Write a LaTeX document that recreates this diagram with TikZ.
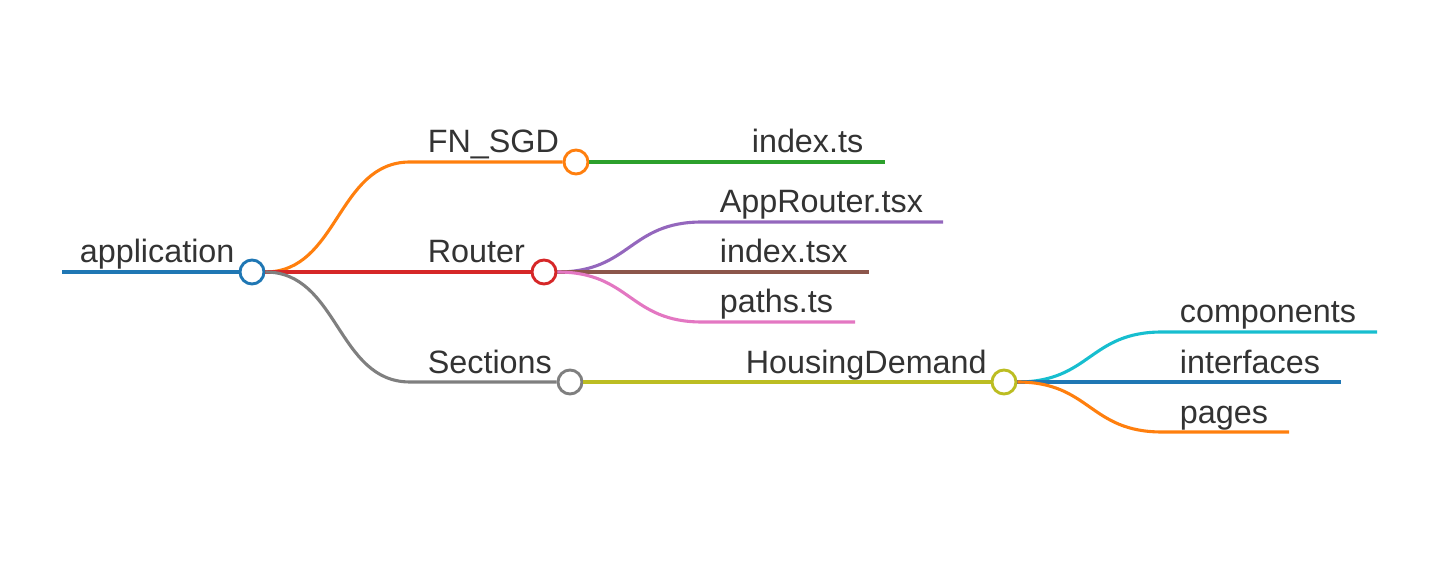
\documentclass[tikz,border=0pt]{standalone}
\usepackage{fontspec}
\setmainfont{Liberation Sans}
\usetikzlibrary{positioning}

\definecolor{mmblue}{HTML}{1F77B4}
\definecolor{mmorange}{HTML}{FF7F0E}
\definecolor{mmgreen}{HTML}{2CA02C}
\definecolor{mmred}{HTML}{D62728}
\definecolor{mmpurple}{HTML}{9467BD}
\definecolor{mmbrown}{HTML}{8C564B}
\definecolor{mmpink}{HTML}{E377C2}
\definecolor{mmgray}{HTML}{7F7F7F}
\definecolor{mmolive}{HTML}{BCBD22}
\definecolor{mmcyan}{HTML}{17BECF}
\definecolor{txtgray}{HTML}{333333}

\tikzset{
  branch/.style={line width=0.062cm},
  knot/.style={circle, draw=#1, fill=white, line width=0.058cm, minimum size=0.48cm, inner sep=0pt},
  leaf/.style={anchor=base west, inner sep=0pt, text=txtgray, font=\fontsize{18.4}{20}\selectfont},
}

\begin{document}
\begin{tikzpicture}[x=0.02cm, y=-0.02cm]
  \useasboundingbox (0,0) rectangle (1453,573);

  % circles
  \node[knot=mmblue]   (app) at (252,272) {};
  \node[knot=mmorange] (fn)  at (576,162) {};
  \node[knot=mmred]    (rt)  at (544,272) {};
  \node[knot=mmgray]   (sec) at (570,382) {};
  \node[knot=mmolive]  (hd)  at (1004,382) {};

  % line ends
  \coordinate (appL) at (62,272);
  \coordinate (fnL)  at (410,162);
  \coordinate (fnE)  at (885,162);
  \coordinate (arL)  at (702,222);
  \coordinate (arE)  at (943,222);
  \coordinate (itE)  at (869,272);
  \coordinate (ptL)  at (702,322);
  \coordinate (ptE)  at (855,322);
  \coordinate (secL) at (410,382);
  \coordinate (cpL)  at (1162,332);
  \coordinate (cpE)  at (1377,332);
  \coordinate (ifE)  at (1341,382);
  \coordinate (pgL)  at (1162,432);
  \coordinate (pgE)  at (1289,432);

  % branches
  \draw[branch, mmblue] (appL) -- (app.west);
  \draw[branch, mmorange] (app.east) .. controls +(73,0) and +(-73,0) .. (fnL) -- (fn.west);
  \draw[branch, mmgreen] (fn.east) -- (fnE);
  \draw[branch, mmred] (app.east) -- (rt.west);
  \draw[branch, mmpurple] (rt.east) .. controls +(73,0) and +(-73,0) .. (arL) -- (arE);
  \draw[branch, mmbrown] (rt.east) -- (itE);
  \draw[branch, mmpink] (rt.east) .. controls +(73,0) and +(-73,0) .. (ptL) -- (ptE);
  \draw[branch, mmgray] (app.east) .. controls +(73,0) and +(-73,0) .. (secL) -- (sec.west);
  \draw[branch, mmolive] (sec.east) -- (hd.west);
  \draw[branch, mmcyan] (hd.east) .. controls +(73,0) and +(-73,0) .. (cpL) -- (cpE);
  \draw[branch, mmblue] (hd.east) -- (ifE);
  \draw[branch, mmorange] (hd.east) .. controls +(73,0) and +(-73,0) .. (pgL) -- (pgE);

  % labels
  \node[leaf] (appT) at (79.5,263)   {application};
  \node[leaf] (fnT)  at (427.5,153)  {FN\_SGD};
  \node[leaf] (idT)  at (751.5,153)  {index.ts};
  \node[leaf] (rtT)  at (427.5,263)  {Router};
  \node[leaf] (arT)  at (719.5,213)  {AppRouter.tsx};
  \node[leaf] (itT)  at (719.5,263)  {index.tsx};
  \node[leaf] (ptT)  at (719.5,313)  {paths.ts};
  \node[leaf] (secT) at (427.5,374)  {Sections};
  \node[leaf] (hdT)  at (745.5,374)  {HousingDemand};
  \node[leaf] (cpT)  at (1179.5,323) {components};
  \node[leaf] (ifT)  at (1179.5,374) {interfaces};
  \node[leaf] (pgT)  at (1179.5,424) {pages};
\end{tikzpicture}
\end{document}
